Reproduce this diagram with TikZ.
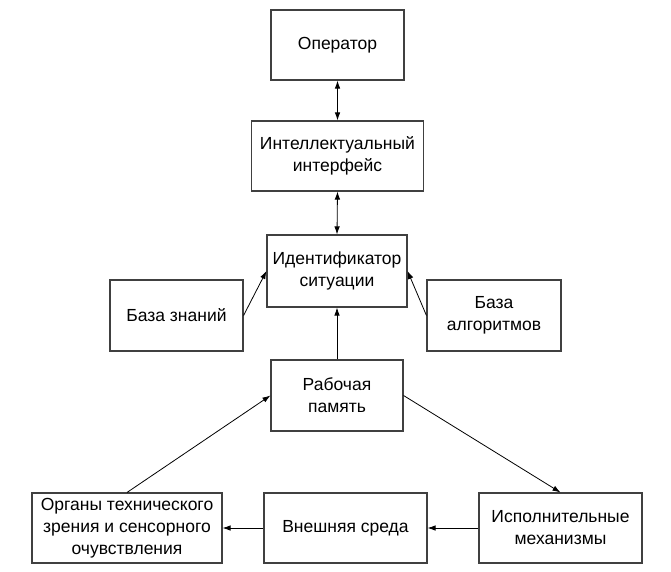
\documentclass[tikz,border=0pt]{standalone}
\usepackage{fontspec}
\setmainfont{Liberation Sans}
\usetikzlibrary{arrows.meta}
\tikzset{
  box/.style={draw=black!75, line width=1.1pt, fill=white, inner sep=0pt, align=center,
    font=\fontsize{17.5}{22}\selectfont},
  conn/.style={draw=black, line width=0.8pt, -{Latex[length=8pt,width=5.5pt]}},
  bconn/.style={draw=black, line width=0.8pt, {Latex[length=8pt,width=5.5pt]}-{Latex[length=8pt,width=5.5pt]}}
}
\begin{document}
\begin{tikzpicture}[x=1pt,y=-1pt]
\useasboundingbox[fill=white] (0,0) rectangle (671,572);
\node[box, minimum width=133pt, minimum height=70pt] (op) at (337.5,45) {Оператор};
\node[box, minimum width=172pt, minimum height=70pt] (ii) at (337.5,156) {Интеллектуальный\\интерфейс};
\node[box, minimum width=140pt, minimum height=72pt] (id) at (337,271) {Идентификатор\\ситуации};
\node[box, minimum width=133pt, minimum height=71pt] (bz) at (176.5,315.5) {База знаний};
\node[box, minimum width=134pt, minimum height=71pt] (ba) at (494,315.5) {База\\алгоритмов};
\node[box, minimum width=132pt, minimum height=71pt] (rp) at (337,395.5) {Рабочая\\память};
\node[box, minimum width=190pt, minimum height=70pt] (org) at (127,528) {Органы технического\\зрения и сенсорного\\очувствления};
\node[box, minimum width=163pt, minimum height=70pt] (vs) at (345.5,528) {Внешняя среда};
\node[box, minimum width=163pt, minimum height=70pt] (im) at (560.5,528) {Исполнительные\\механизмы};
\draw[bconn] (op.south) -- (ii.north);
\draw[bconn] (ii.south) -- (id.north);
\draw[conn] (bz.east) -- (id.west);
\draw[conn] (ba.west) -- (id.east);
\draw[conn] (rp.north) -- (id.south);
\draw[conn] (org.north) -- (rp.west);
\draw[conn] (rp.east) -- (im.north);
\draw[conn] (im.west) -- (vs.east);
\draw[conn] (vs.west) -- (org.east);
\end{tikzpicture}
\end{document}
